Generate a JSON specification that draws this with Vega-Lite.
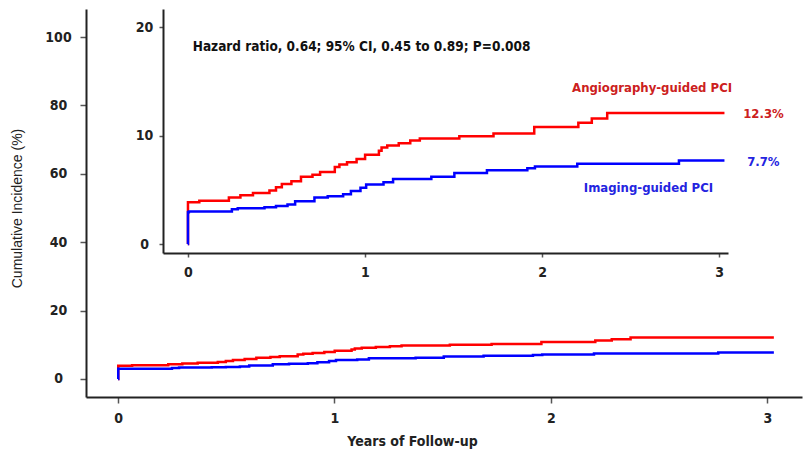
{
  "$schema": "https://vega.github.io/schema/vega-lite/v6.json",
  "width": 716,
  "height": 388,
  "autosize": {"type": "none"},
  "padding": {"left": 86, "top": 9, "right": 2, "bottom": 56},
  "background": "white",
  "config": {
    "view": {"stroke": null},
    "font": "'Liberation Sans Narrow', 'DejaVu Sans Condensed', 'Roboto Condensed', 'Liberation Sans', sans-serif",
    "axis": {
      "grid": false,
      "domainColor": "#222222",
      "domainWidth": 2,
      "tickColor": "#555555",
      "tickWidth": 1.5,
      "labelFont": "'Liberation Sans Narrow', 'DejaVu Sans Condensed', 'Roboto Condensed', 'Liberation Sans', sans-serif",
      "labelFontWeight": "bold",
      "labelFontSize": 14,
      "labelColor": "#222222",
      "titleColor": "#222222",
      "format": "d"
    }
  },
  "datasets": {
    "km": [
      {"group": "Angiography-guided PCI", "year": 0, "value": 0},
      {"group": "Angiography-guided PCI", "year": 0.001, "value": 3.85},
      {"group": "Angiography-guided PCI", "year": 0.065, "value": 4.0},
      {"group": "Angiography-guided PCI", "year": 0.232, "value": 4.3},
      {"group": "Angiography-guided PCI", "year": 0.297, "value": 4.5},
      {"group": "Angiography-guided PCI", "year": 0.368, "value": 4.7},
      {"group": "Angiography-guided PCI", "year": 0.461, "value": 4.95},
      {"group": "Angiography-guided PCI", "year": 0.498, "value": 5.25},
      {"group": "Angiography-guided PCI", "year": 0.531, "value": 5.55},
      {"group": "Angiography-guided PCI", "year": 0.585, "value": 5.8},
      {"group": "Angiography-guided PCI", "year": 0.639, "value": 6.2},
      {"group": "Angiography-guided PCI", "year": 0.704, "value": 6.4},
      {"group": "Angiography-guided PCI", "year": 0.747, "value": 6.65},
      {"group": "Angiography-guided PCI", "year": 0.83, "value": 7.1},
      {"group": "Angiography-guided PCI", "year": 0.856, "value": 7.35},
      {"group": "Angiography-guided PCI", "year": 0.899, "value": 7.55},
      {"group": "Angiography-guided PCI", "year": 0.953, "value": 7.85},
      {"group": "Angiography-guided PCI", "year": 1.001, "value": 8.25},
      {"group": "Angiography-guided PCI", "year": 1.079, "value": 8.6},
      {"group": "Angiography-guided PCI", "year": 1.094, "value": 8.9},
      {"group": "Angiography-guided PCI", "year": 1.126, "value": 9.1},
      {"group": "Angiography-guided PCI", "year": 1.191, "value": 9.3},
      {"group": "Angiography-guided PCI", "year": 1.256, "value": 9.55},
      {"group": "Angiography-guided PCI", "year": 1.31, "value": 9.75},
      {"group": "Angiography-guided PCI", "year": 1.533, "value": 9.95},
      {"group": "Angiography-guided PCI", "year": 1.726, "value": 10.2},
      {"group": "Angiography-guided PCI", "year": 1.956, "value": 10.8},
      {"group": "Angiography-guided PCI", "year": 2.205, "value": 11.2},
      {"group": "Angiography-guided PCI", "year": 2.281, "value": 11.6},
      {"group": "Angiography-guided PCI", "year": 2.368, "value": 12.1},
      {"group": "Angiography-guided PCI", "year": 3.03, "value": 12.1},
      {"group": "Imaging-guided PCI", "year": 0, "value": 0},
      {"group": "Imaging-guided PCI", "year": 0.001, "value": 2.94},
      {"group": "Imaging-guided PCI", "year": 0.006, "value": 3.0},
      {"group": "Imaging-guided PCI", "year": 0.249, "value": 3.2},
      {"group": "Imaging-guided PCI", "year": 0.282, "value": 3.3},
      {"group": "Imaging-guided PCI", "year": 0.433, "value": 3.4},
      {"group": "Imaging-guided PCI", "year": 0.498, "value": 3.5},
      {"group": "Imaging-guided PCI", "year": 0.563, "value": 3.65},
      {"group": "Imaging-guided PCI", "year": 0.606, "value": 3.95},
      {"group": "Imaging-guided PCI", "year": 0.715, "value": 4.3},
      {"group": "Imaging-guided PCI", "year": 0.79, "value": 4.4},
      {"group": "Imaging-guided PCI", "year": 0.877, "value": 4.6},
      {"group": "Imaging-guided PCI", "year": 0.921, "value": 4.9},
      {"group": "Imaging-guided PCI", "year": 0.975, "value": 5.2},
      {"group": "Imaging-guided PCI", "year": 1.007, "value": 5.5},
      {"group": "Imaging-guided PCI", "year": 1.105, "value": 5.7},
      {"group": "Imaging-guided PCI", "year": 1.159, "value": 6.0},
      {"group": "Imaging-guided PCI", "year": 1.375, "value": 6.2},
      {"group": "Imaging-guided PCI", "year": 1.505, "value": 6.55},
      {"group": "Imaging-guided PCI", "year": 1.689, "value": 6.8},
      {"group": "Imaging-guided PCI", "year": 1.917, "value": 7.0},
      {"group": "Imaging-guided PCI", "year": 1.96, "value": 7.15},
      {"group": "Imaging-guided PCI", "year": 2.199, "value": 7.4},
      {"group": "Imaging-guided PCI", "year": 2.773, "value": 7.7},
      {"group": "Imaging-guided PCI", "year": 3.03, "value": 7.7}
    ],
    "notes": [
      {"group": "note", "text": "Hazard ratio, 0.64; 95% CI, 0.45 to 0.89; P=0.008", "year": 0.028, "value": 18.2, "side": "left"},
      {"group": "Angiography-guided PCI", "text": "Angiography-guided PCI", "year": 3.073, "value": 14.4, "side": "right"},
      {"group": "Angiography-guided PCI", "text": "12.3%", "year": 3.136, "value": 12.0, "side": "left"},
      {"group": "Imaging-guided PCI", "text": "7.7%", "year": 3.158, "value": 7.58, "side": "left"},
      {"group": "Imaging-guided PCI", "text": "Imaging-guided PCI", "year": 2.966, "value": 5.18, "side": "right"}
    ]
  },
  "layer": [
    {
      "data": {"name": "km"},
      "mark": {"type": "line", "interpolate": "step-after", "strokeWidth": 2.5},
      "encoding": {
        "x": {
          "field": "year", "type": "quantitative",
          "scale": {"domain": [-0.148, 3.16], "nice": false, "zero": false},
          "axis": {"orient": "bottom", "values": [0, 1, 2, 3], "tickSize": 6, "labelPadding": 8,
                   "title": "Years of Follow-up", "titleFontWeight": "bold",
                   "titleFontSize": 14, "titlePadding": 9, "titleX": 326}
        },
        "y": {
          "field": "value", "type": "quantitative",
          "scale": {"domain": [-5.3, 108.2], "nice": false, "zero": false},
          "axis": {"orient": "left", "values": [0, 20, 40, 60, 80, 100], "tickSize": 6, "labelAlign": "center",
                   "labelPadding": 22, "title": "Cumulative Incidence (%)", "titleFont": "'Liberation Sans', sans-serif",
                   "titleFontWeight": "normal", "titleFontSize": 14, "titlePadding": 20, "titleY": 199}
        },
        "color": {
          "field": "group", "type": "nominal",
          "scale": {"domain": ["Angiography-guided PCI", "Imaging-guided PCI"], "range": ["#ff0000", "#0000ff"]},
          "legend": null
        }
      }
    },
    {
      "layer": [
        {
          "data": {"name": "km"},
          "mark": {"type": "line", "interpolate": "step-after", "strokeWidth": 2.5},
          "encoding": {
            "x": {
              "field": "year", "type": "quantitative",
              "scale": {"domain": [-0.14, 3.05], "range": [77, 642], "nice": false, "zero": false},
              "axis": {"orient": "bottom", "offset": -144, "values": [0, 1, 2, 3], "tickSize": 4, "labelPadding": 8, "title": null}
            },
            "y": {
              "field": "value", "type": "quantitative",
              "scale": {"domain": [-0.83, 21.7], "range": [244, 0], "nice": false, "zero": false},
              "axis": {"orient": "left", "offset": -77, "values": [0, 10, 20], "tickSize": 4, "labelAlign": "center",
                       "labelPadding": 15, "title": null}
            },
            "color": {
              "field": "group", "type": "nominal",
              "scale": {"domain": ["Angiography-guided PCI", "Imaging-guided PCI"], "range": ["#ff0000", "#0000ff"]},
              "legend": null
            }
          }
        },
        {
          "data": {"name": "notes"},
          "transform": [{"filter": "datum.group === 'note'"}],
          "mark": {"type": "text", "align": "left", "baseline": "middle", "fontWeight": "bold", "fontSize": 13.5, "color": "#111111"},
          "encoding": {
            "x": {"field": "year", "type": "quantitative"},
            "y": {"field": "value", "type": "quantitative"},
            "text": {"field": "text"}
          }
        },
        {
          "data": {"name": "notes"},
          "transform": [{"filter": "datum.group === 'Angiography-guided PCI' && datum.side === 'right'"}],
          "mark": {"type": "text", "align": "right", "baseline": "middle", "fontWeight": "bold", "fontSize": 13, "color": "#cc2020"},
          "encoding": {
            "x": {"field": "year", "type": "quantitative"},
            "y": {"field": "value", "type": "quantitative"},
            "text": {"field": "text"}
          }
        },
        {
          "data": {"name": "notes"},
          "transform": [{"filter": "datum.group === 'Angiography-guided PCI' && datum.side === 'left'"}],
          "mark": {"type": "text", "align": "left", "baseline": "middle", "fontWeight": "bold", "fontSize": 13, "color": "#cc2020"},
          "encoding": {
            "x": {"field": "year", "type": "quantitative"},
            "y": {"field": "value", "type": "quantitative"},
            "text": {"field": "text"}
          }
        },
        {
          "data": {"name": "notes"},
          "transform": [{"filter": "datum.group === 'Imaging-guided PCI' && datum.side === 'right'"}],
          "mark": {"type": "text", "align": "right", "baseline": "middle", "fontWeight": "bold", "fontSize": 13, "color": "#2424e0"},
          "encoding": {
            "x": {"field": "year", "type": "quantitative"},
            "y": {"field": "value", "type": "quantitative"},
            "text": {"field": "text"}
          }
        },
        {
          "data": {"name": "notes"},
          "transform": [{"filter": "datum.group === 'Imaging-guided PCI' && datum.side === 'left'"}],
          "mark": {"type": "text", "align": "left", "baseline": "middle", "fontWeight": "bold", "fontSize": 13, "color": "#2424e0"},
          "encoding": {
            "x": {"field": "year", "type": "quantitative"},
            "y": {"field": "value", "type": "quantitative"},
            "text": {"field": "text"}
          }
        }
      ]
    }
  ],
  "resolve": {
    "scale": {"x": "independent", "y": "independent"},
    "axis": {"x": "independent", "y": "independent"}
  }
}
